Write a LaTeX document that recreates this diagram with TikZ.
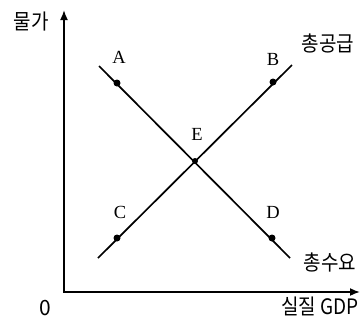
\documentclass[tikz,border=0pt]{standalone}
\usepackage{fontspec}
\setmainfont{Liberation Serif}
\newfontfamily\kr{Noto Sans CJK KR}[Scale=1]
\usetikzlibrary{arrows.meta}
\newcommand{\tallkr}[1]{\scalebox{1}[1.12]{#1}}
\tikzset{
  axis/.style={line width=1.7pt,-{Latex[length=10pt,width=8pt]}},
  curve/.style={line width=1.7pt},
  dot/.style={circle,fill=black,inner sep=0pt,minimum size=7pt},
  ptlabel/.style={font=\fontsize{18.5}{18.5}\selectfont},
  krlabel/.style={font=\kr\fontsize{19}{19}\selectfont,inner sep=0pt},
}
\begin{document}
\begin{tikzpicture}[x=1pt,y=-1pt]
\useasboundingbox (0,0) rectangle (362,322);
\coordinate (O) at (64,292);
\coordinate (ytip) at (64,10);
\coordinate (xtip) at (360,292);
\coordinate (ybase) at (64,291);
\coordinate (xbase) at (63,292);
\draw[axis] (ybase) -- (ytip);
\draw[axis] (xbase) -- (xtip);
\coordinate (s1) at (98,258);
\coordinate (s2) at (292,65);
\coordinate (d1) at (99,66);
\coordinate (d2) at (290,258);
\draw[curve] (s1) -- (s2);
\draw[curve] (d1) -- (d2);
\node[dot] (A) at (117,83) {};
\node[dot] (B) at (273,82) {};
\node[dot] (C) at (117,238) {};
\node[dot] (D) at (272,238) {};
\node[dot,minimum size=6pt] (E) at (195,161) {};
\node[ptlabel] (lA) at (119,57) {A};
\node[ptlabel] (lB) at (273,59) {B};
\node[ptlabel] (lC) at (120,212) {C};
\node[ptlabel] (lD) at (273,212) {D};
\node[ptlabel] (lE) at (197,134) {E};
\node[krlabel] (py) at (31,22) {\tallkr{물가}};
\node[krlabel] (as) at (328,43) {\tallkr{총공급}};
\node[krlabel] (ad) at (330,263) {\tallkr{총수요}};
\node[krlabel,anchor=east] (gdp) at (359,306) {\tallkr{실질 GDP}};
\node[krlabel,font=\kr\fontsize{21}{21}\selectfont] (zero) at (45,308) {0};
\end{tikzpicture}
\end{document}
